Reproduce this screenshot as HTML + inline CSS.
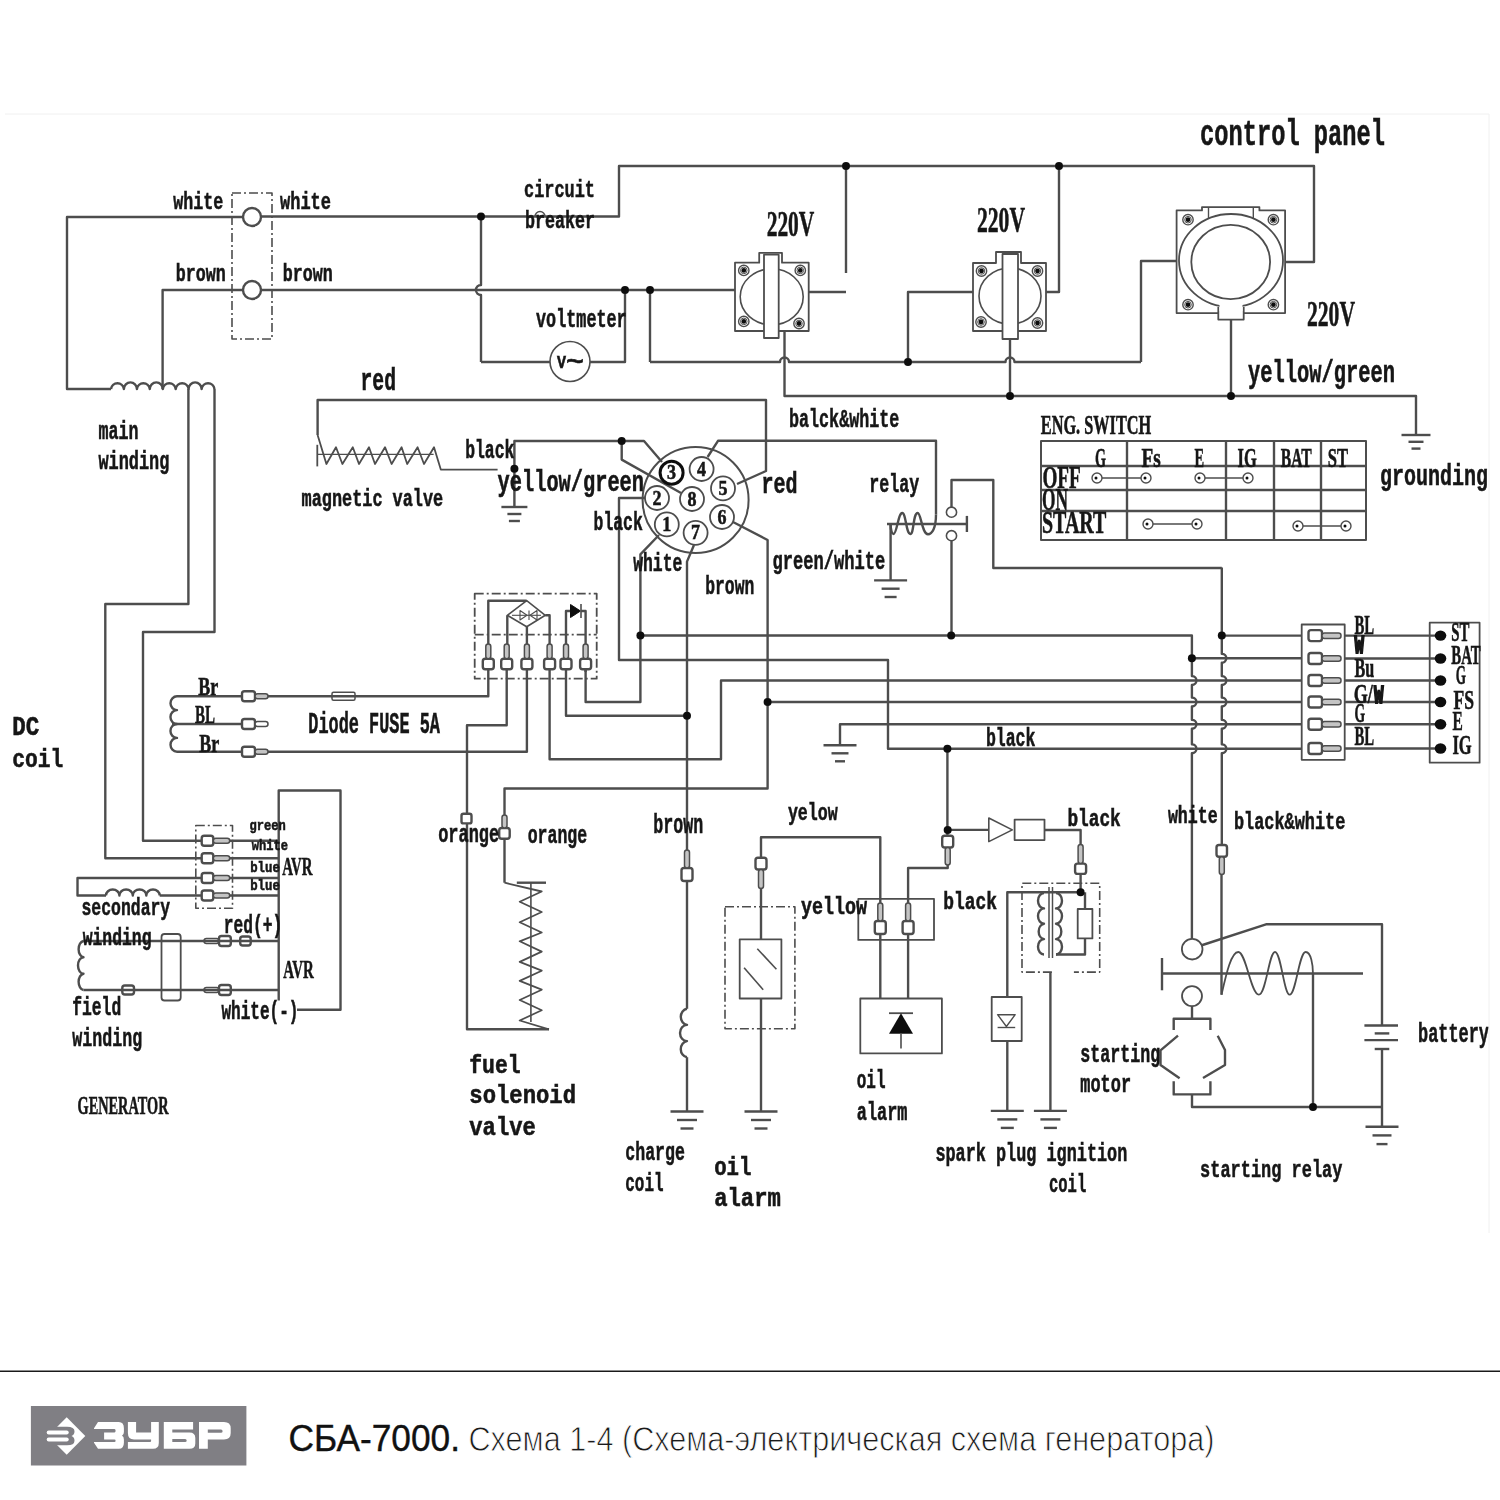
<!DOCTYPE html>
<html><head><meta charset="utf-8"><title>Wiring diagram</title>
<style>
html,body{margin:0;padding:0;background:#fff;}
body{width:1500px;height:1500px;overflow:hidden;position:relative;font-family:"Liberation Sans",sans-serif;}
svg{position:absolute;left:0;top:0;}
</style></head><body>
<svg width="1500" height="1500" viewBox="0 0 1500 1500">
<defs><filter id="bl" x="-1%" y="-1%" width="102%" height="102%"><feGaussianBlur stdDeviation="0.7"/></filter><filter id="bl2" x="-2%" y="-5%" width="104%" height="110%"><feGaussianBlur stdDeviation="0.45"/></filter></defs>
<g filter="url(#bl)">
<g fill="none" stroke="#4e4e4e" stroke-width="2.4" stroke-linejoin="round" stroke-linecap="butt">
<rect x="232" y="193" width="40" height="146" fill="none" stroke-dasharray="9 3 2 3" stroke-width="1.6"/>
<circle cx="252" cy="217" r="9" fill="none"/>
<circle cx="252" cy="290" r="9" fill="none"/>
<polyline points="243,217 67,217 67,389 111,389"/>
<path d="M111,389 A6.5,6.6 0 0 1 123.9,389 A6.5,6.6 0 0 1 136.9,389 A6.5,6.6 0 0 1 149.8,389 A6.5,6.6 0 0 1 162.8,389 A6.5,6.6 0 0 1 175.7,389 A6.5,6.6 0 0 1 188.6,389 A6.5,6.6 0 0 1 201.6,389 A6.5,6.6 0 0 1 214.5,389"/>
<polyline points="214.5,389 214.5,632 143,632 143,840.7 202,840.7"/>
<polyline points="243,290 162.6,290 162.6,389"/>
<polyline points="188.4,389 188.4,604 105.3,604 105.3,858.2 202,858.2"/>
<polyline points="261,216.5 619,216.5 619,166 1314,166 1314,262 1285,262"/>
<path d="M535,216.5 A5,5 0 0 1 545,216.5" stroke-width="1.4"/>
<path d="M481,216.5 L481,285 A5,5 0 0 0 481,295 L481,362"/>
<polyline points="481,362 550,362"/>
<circle cx="570" cy="361.5" r="20" fill="none" stroke-width="1.6"/>
<polyline points="590,362 625,362 625,290"/>
<polyline points="261,290 735,290"/>
<polyline points="650,290 650,362"/>
<path d="M650,362 L780,362 A4.5,4.5 0 0 1 789,362 L1005.5,362 A4.5,4.5 0 0 1 1014.5,362 L1141,362"/>
<polyline points="1141,362 1141,261 1177,261"/>
<polyline points="908,362 908,292 973,292"/>
<polyline points="809,292 846,292"/>
<polyline points="846,166 846,273"/>
<polyline points="1046,292 1059,292 1059,166"/>
<polyline points="784.5,331 784.5,396 1416,396 1416,435"/>
<polyline points="1010,339 1010,396"/>
<polyline points="1231,320 1231,396"/>
<polyline points="1401.5,435 1430.5,435"/>
<polyline points="1408.5,441.8 1423.5,441.8"/>
<polyline points="1411.5,448.6 1420.5,448.6"/>
<path d="M735,262.7 L759.2,262.7 L759.2,252.8 L782,252.8 L782,262.7 L808.7,262.7 L808.7,331 L735,331 Z" stroke-width="1.8"/>
<ellipse cx="771.7" cy="296.8" rx="31.5" ry="28" stroke-width="1.6"/>
<rect x="764" y="254.7" width="14.7" height="83.3" fill="#fff" stroke-width="1.8"/>
<circle cx="743.8" cy="270.4" r="5.2" fill="none" stroke-width="1.4"/>
<circle cx="743.8" cy="270.4" r="3.3" fill="none" stroke-width="1"/>
<circle cx="800.3" cy="270.4" r="5.2" fill="none" stroke-width="1.4"/>
<circle cx="800.3" cy="270.4" r="3.3" fill="none" stroke-width="1"/>
<circle cx="743.8" cy="321.4" r="5.2" fill="none" stroke-width="1.4"/>
<circle cx="743.8" cy="321.4" r="3.3" fill="none" stroke-width="1"/>
<circle cx="799" cy="323.5" r="5.2" fill="none" stroke-width="1.4"/>
<circle cx="799" cy="323.5" r="3.3" fill="none" stroke-width="1"/>
<path d="M973,263 L996,263 L996,252 L1021,252 L1021,263 L1046,263 L1046,331 L973,331 Z" stroke-width="1.8"/>
<ellipse cx="1010" cy="296" rx="31" ry="28" stroke-width="1.6"/>
<rect x="1002.5" y="254" width="15.5" height="85" fill="#fff" stroke-width="1.8"/>
<circle cx="981.5" cy="271" r="5.2" fill="none" stroke-width="1.4"/>
<circle cx="981.5" cy="271" r="3.3" fill="none" stroke-width="1"/>
<circle cx="1037.5" cy="271" r="5.2" fill="none" stroke-width="1.4"/>
<circle cx="1037.5" cy="271" r="3.3" fill="none" stroke-width="1"/>
<circle cx="981" cy="322" r="5.2" fill="none" stroke-width="1.4"/>
<circle cx="981" cy="322" r="3.3" fill="none" stroke-width="1"/>
<circle cx="1037.5" cy="323" r="5.2" fill="none" stroke-width="1.4"/>
<circle cx="1037.5" cy="323" r="3.3" fill="none" stroke-width="1"/>
<path d="M1176.6,210.4 L1202,210.4 L1202,207.1 L1259.4,207.1 L1259.4,210.4 L1285.1,210.4 L1285.1,313.1 L1176.6,313.1 Z" stroke-width="1.8"/>
<path d="M1218.3,307 L1218.3,319.6 L1243.7,319.6 L1243.7,307" fill="#fff" stroke-width="1.8"/>
<ellipse cx="1231" cy="260.5" rx="52" ry="46.5" stroke-width="1.8"/>
<rect x="1219.5" y="303" width="23" height="8" fill="#fff" stroke="none"/>
<ellipse cx="1230.7" cy="262" rx="39.4" ry="37.1" stroke-width="1.8"/>
<polyline points="1208.5,207.5 1208.5,219" stroke-width="1.4"/>
<polyline points="1253.3,207.5 1253.3,219" stroke-width="1.4"/>
<circle cx="1188" cy="219.7" r="5.2" fill="none" stroke-width="1.4"/>
<circle cx="1188" cy="219.7" r="3.3" fill="none" stroke-width="1"/>
<circle cx="1273.4" cy="219.7" r="5.2" fill="none" stroke-width="1.4"/>
<circle cx="1273.4" cy="219.7" r="3.3" fill="none" stroke-width="1"/>
<circle cx="1188" cy="304.7" r="5.2" fill="none" stroke-width="1.4"/>
<circle cx="1188" cy="304.7" r="3.3" fill="none" stroke-width="1"/>
<circle cx="1273.4" cy="304.7" r="5.2" fill="none" stroke-width="1.4"/>
<circle cx="1273.4" cy="304.7" r="3.3" fill="none" stroke-width="1"/>
<polyline points="737,484 766,471 766,400 317.6,400 317.6,435"/>
<polyline points="317.6,435 326.4,464 336,447.2 342.4,464 352.8,447.2 359,464 369,447.2 375,464 385,447.2 391.6,464 401.6,447.2 407.2,464 417.6,447.2 424,464 434,447.2 440.8,469.6 497.6,469.6" stroke-width="1.8"/>
<polyline points="317.3,444.8 317.3,466.4" stroke-width="1.8"/>
<polyline points="318,454.4 433.6,454.4" stroke-width="1.2"/>
<polyline points="514.4,507 514.4,441 644,441 662,462"/>
<polyline points="621.7,441 621.7,459.6 681,493"/>
<polyline points="501.4,507 527.4,507"/>
<polyline points="507.4,514 521.4,514"/>
<polyline points="508.9,521 519.9,521"/>
<circle cx="695.6" cy="500" r="53" fill="none" stroke-width="2"/>
<circle cx="671.6" cy="472.8" r="11.5" fill="#fff" stroke="#111" stroke-width="3"/>
<circle cx="701.6" cy="469" r="12" fill="#fff" stroke-width="1.8"/>
<circle cx="723" cy="488.4" r="12" fill="#fff" stroke-width="1.8"/>
<circle cx="657" cy="498" r="12" fill="#fff" stroke-width="1.8"/>
<circle cx="692" cy="499" r="12" fill="#fff" stroke-width="1.8"/>
<circle cx="666.8" cy="524.4" r="12" fill="#fff" stroke-width="1.8"/>
<circle cx="695.6" cy="532.8" r="12" fill="#fff" stroke-width="1.8"/>
<circle cx="722" cy="517" r="12" fill="#fff" stroke-width="1.8"/>
<polyline points="645,498 619,498 619,660 888,660 888,748.7 1302,748.7"/>
<polyline points="659,535 640.4,554.4 640.4,702 585.6,702 585.6,669"/>
<polyline points="640.4,635.5 1191.9,635.5 1191.9,658.3"/>
<polyline points="694,545 687,561.6 687,850"/>
<polyline points="733,522 767.6,540 767.6,788.5 504.5,788.5 504.5,815"/>
<polyline points="767.6,702 1302,702"/>
<polyline points="707.6,457 718,440.8 936,440.8 936,514.4"/>
<path d="M936,514.4 C936,528 932,534.2 928,534.2 C922,534.2 921,513 917.7,513 C913,513 914,534 910.4,534 C906,534 906,513 902.3,513 C898,513 897,534 893.5,534 C891.5,534 890.6,528 890.6,524"/>
<polyline points="887,524 966.9,524"/>
<polyline points="966.9,515.9 966.9,532"/>
<polyline points="890.6,524 890.6,580.4"/>
<polyline points="874.1,580.4 907.1,580.4"/>
<polyline points="881.6,588.7 899.6,588.7"/>
<polyline points="884.6,597 896.6,597"/>
<circle cx="951.5" cy="512.2" r="5.1" fill="none" stroke-width="1.6"/>
<circle cx="951.5" cy="535.7" r="5.1" fill="none" stroke-width="1.6"/>
<polyline points="951.5,507 951.5,480 993.3,480 993.3,568 1221.8,568"/>
<polyline points="951.5,541 951.5,635.5"/>
<rect x="1041" y="441" width="325" height="99" fill="none" stroke-width="2"/>
<polyline points="1041,466 1366,466"/>
<polyline points="1041,490 1366,490"/>
<polyline points="1041,511 1366,511"/>
<polyline points="1127,441 1127,540"/>
<polyline points="1226,441 1226,540"/>
<polyline points="1274,441 1274,540"/>
<polyline points="1321,441 1321,540"/>
<polyline points="1097,478 1146,478" stroke-width="1.4"/>
<circle cx="1097" cy="478" r="5" fill="#fff" stroke-width="1.4"/>
<circle cx="1146" cy="478" r="5" fill="#fff" stroke-width="1.4"/>
<polyline points="1200,478 1248,478" stroke-width="1.4"/>
<circle cx="1200" cy="478" r="5" fill="#fff" stroke-width="1.4"/>
<circle cx="1248" cy="478" r="5" fill="#fff" stroke-width="1.4"/>
<polyline points="1148,524 1197,524" stroke-width="1.4"/>
<circle cx="1148" cy="524" r="5" fill="#fff" stroke-width="1.4"/>
<circle cx="1197" cy="524" r="5" fill="#fff" stroke-width="1.4"/>
<polyline points="1298,526 1346,526" stroke-width="1.4"/>
<circle cx="1298" cy="526" r="5" fill="#fff" stroke-width="1.4"/>
<circle cx="1346" cy="526" r="5" fill="#fff" stroke-width="1.4"/>
<rect x="474.7" y="593.7" width="122" height="85" fill="none" stroke-dasharray="9 3 2 3" stroke-width="1.8"/>
<line x1="474.7" y1="634.7" x2="596.7" y2="634.7" stroke-dasharray="9 3 2 3" stroke-width="1.8"/>
<polyline points="488.3,658 488.3,600.7 526.7,600.7"/>
<path d="M526.7,600.7 L545.3,615.3 L526.7,626.7 L507.3,615.3 Z" stroke-width="1.6"/>
<polyline points="507.3,615.3 507.3,658"/>
<polyline points="526.9,626.7 526.9,658"/>
<polyline points="545.3,615.3 549.6,615.3 549.6,658"/>
<polyline points="512,615.3 541,615.3" stroke-width="1.1"/>
<path d="M520,610.5 L520,620 L527,615.3 Z M529,610.5 L529,620 M537,610.5 L537,620 L530,615.3 Z" stroke-width="1.1"/>
<polyline points="566,658 566,611 570,611"/>
<path d="M570.5,604.5 L570.5,617.5 L580.5,611 Z" fill="#111" stroke="#111" stroke-width="1"/>
<polyline points="581,604 581,618" stroke-width="1.6"/>
<polyline points="581,611 585.6,611 585.6,658"/>
<rect x="482.8" y="658.7" width="11" height="10.6" fill="#fff" rx="2.5"/>
<rect x="485.8" y="644" width="5" height="14.7" fill="#c4c4c4" stroke-width="1.5" rx="2.5"/>
<rect x="501.2" y="658.7" width="11" height="10.6" fill="#fff" rx="2.5"/>
<rect x="504.2" y="644" width="5" height="14.7" fill="#c4c4c4" stroke-width="1.5" rx="2.5"/>
<rect x="521.4" y="658.7" width="11" height="10.6" fill="#fff" rx="2.5"/>
<rect x="524.4" y="644" width="5" height="14.7" fill="#c4c4c4" stroke-width="1.5" rx="2.5"/>
<rect x="544.1" y="658.7" width="11" height="10.6" fill="#fff" rx="2.5"/>
<rect x="547.1" y="644" width="5" height="14.7" fill="#c4c4c4" stroke-width="1.5" rx="2.5"/>
<rect x="560.5" y="658.7" width="11" height="10.6" fill="#fff" rx="2.5"/>
<rect x="563.5" y="644" width="5" height="14.7" fill="#c4c4c4" stroke-width="1.5" rx="2.5"/>
<rect x="580.1" y="658.7" width="11" height="10.6" fill="#fff" rx="2.5"/>
<rect x="583.1" y="644" width="5" height="14.7" fill="#c4c4c4" stroke-width="1.5" rx="2.5"/>
<polyline points="488.3,669.3 488.3,696.3 268,696.3"/>
<polyline points="506.7,669.3 506.7,725.3 467,725.3 467,813.7"/>
<polyline points="467,823.4 467,1029.3 549,1029.3"/>
<polyline points="526.9,669.3 526.9,751.7 268,751.7"/>
<polyline points="549.6,669.3 549.6,759.3 721,759.3 721,680.5 1302,680.5"/>
<polyline points="566,669.3 566,715.7 687,715.7"/>
<polyline points="585.6,669.3 585.6,672"/>
<rect x="332" y="692.3" width="23" height="8" fill="none" stroke-width="1.5" rx="1.5"/>
<polyline points="336,696.3 351,696.3" stroke-width="1"/>
<path d="M177,696.3 A6.5,6.9 0 0 0 177,710.1 A6.5,6.9 0 0 0 177,724 A6.5,6.9 0 0 0 177,737.9 A6.5,6.9 0 0 0 177,751.7"/>
<polyline points="172,724 242,724"/>
<rect x="242" y="691.3" width="13" height="10" fill="#fff" rx="2.5"/>
<rect x="255" y="693.8" width="13" height="5" fill="#c4c4c4" stroke-width="1.5" rx="2.5"/>
<rect x="242" y="719" width="13" height="10" fill="#fff" rx="2.5"/>
<rect x="255" y="721.5" width="13" height="5" fill="#fff" stroke-width="1.5" rx="2.5"/>
<rect x="242" y="746.7" width="13" height="10" fill="#fff" rx="2.5"/>
<rect x="255" y="749.2" width="13" height="5" fill="#c4c4c4" stroke-width="1.5" rx="2.5"/>
<polyline points="177,696.3 242,696.3"/>
<polyline points="177,751.7 242,751.7"/>
<polyline points="1221.8,635.6 1302,635.6"/>
<polyline points="1191.9,658.3 1302,658.3"/>
<polyline points="840,745.3 840,724.2 1302,724.2"/>
<polyline points="823.5,745.3 856.5,745.3"/>
<polyline points="831.5,753.3 848.5,753.3"/>
<polyline points="835,761.3 845,761.3"/>
<path d="M1191.9,658.3 L1191.9,676 A4.5,4.5 0 0 1 1191.9,685 L1191.9,697.5 A4.5,4.5 0 0 1 1191.9,706.5 L1191.9,719.7 A4.5,4.5 0 0 1 1191.9,728.7 L1191.9,744.2 A4.5,4.5 0 0 1 1191.9,753.2 L1191.9,938.9"/>
<path d="M1221.8,567.6 L1221.8,653.8 A4.5,4.5 0 0 1 1221.8,662.8 L1221.8,676 A4.5,4.5 0 0 1 1221.8,685 L1221.8,697.5 A4.5,4.5 0 0 1 1221.8,706.5 L1221.8,719.7 A4.5,4.5 0 0 1 1221.8,728.7 L1221.8,744.2 A4.5,4.5 0 0 1 1221.8,753.2 L1221.8,845"/>
<rect x="1301.7" y="624.5" width="43" height="135.3" fill="none" stroke-width="1.8"/>
<rect x="1429.7" y="622.7" width="49.9" height="140" fill="none" stroke-width="1.8"/>
<rect x="1308.5" y="630.1" width="13.5" height="11" fill="#fff" rx="2.5"/>
<rect x="1322" y="632.9" width="19" height="5.5" fill="#c4c4c4" stroke-width="1.5" rx="2.5"/>
<polyline points="1344.7,635.6 1436,635.6"/>
<ellipse cx="1440.5" cy="635.6" rx="5.8" ry="5.2" fill="#111" stroke="none"/>
<rect x="1308.5" y="653" width="13.5" height="11" fill="#fff" rx="2.5"/>
<rect x="1322" y="655.8" width="19" height="5.5" fill="#c4c4c4" stroke-width="1.5" rx="2.5"/>
<polyline points="1344.7,658.5 1436,658.5"/>
<ellipse cx="1440.5" cy="658.5" rx="5.8" ry="5.2" fill="#111" stroke="none"/>
<rect x="1308.5" y="675" width="13.5" height="11" fill="#fff" rx="2.5"/>
<rect x="1322" y="677.8" width="19" height="5.5" fill="#c4c4c4" stroke-width="1.5" rx="2.5"/>
<polyline points="1344.7,680.5 1436,680.5"/>
<ellipse cx="1440.5" cy="680.5" rx="5.8" ry="5.2" fill="#111" stroke="none"/>
<rect x="1308.5" y="696.5" width="13.5" height="11" fill="#fff" rx="2.5"/>
<rect x="1322" y="699.2" width="19" height="5.5" fill="#c4c4c4" stroke-width="1.5" rx="2.5"/>
<polyline points="1344.7,702 1436,702"/>
<ellipse cx="1440.5" cy="702" rx="5.8" ry="5.2" fill="#111" stroke="none"/>
<rect x="1308.5" y="718.7" width="13.5" height="11" fill="#fff" rx="2.5"/>
<rect x="1322" y="721.5" width="19" height="5.5" fill="#c4c4c4" stroke-width="1.5" rx="2.5"/>
<polyline points="1344.7,724.2 1436,724.2"/>
<ellipse cx="1440.5" cy="724.2" rx="5.8" ry="5.2" fill="#111" stroke="none"/>
<rect x="1308.5" y="743" width="13.5" height="11" fill="#fff" rx="2.5"/>
<rect x="1322" y="745.8" width="19" height="5.5" fill="#c4c4c4" stroke-width="1.5" rx="2.5"/>
<polyline points="1344.7,748.5 1436,748.5"/>
<ellipse cx="1440.5" cy="748.5" rx="5.8" ry="5.2" fill="#111" stroke="none"/>
<rect x="195.8" y="825.5" width="36.7" height="82.8" fill="none" stroke-dasharray="9 3 2 3" stroke-width="1.6"/>
<polyline points="202,878 77.5,878 77.5,895.5 106,895.5"/>
<path d="M106,895.5 A6.7,6 0 0 1 119.4,895.5 A6.7,6 0 0 1 132.8,895.5 A6.7,6 0 0 1 146.3,895.5 A6.7,6 0 0 1 159.7,895.5"/>
<polyline points="159.7,895.5 202,895.5"/>
<rect x="201.7" y="835.7" width="11.6" height="10" fill="#fff" rx="2.5"/>
<rect x="213.3" y="838.2" width="16.4" height="5" fill="#c4c4c4" stroke-width="1.5" rx="2.5"/>
<polyline points="229.7,840.7 278.7,840.7"/>
<rect x="201.7" y="853.2" width="11.6" height="10" fill="#fff" rx="2.5"/>
<rect x="213.3" y="855.7" width="16.4" height="5" fill="#c4c4c4" stroke-width="1.5" rx="2.5"/>
<polyline points="229.7,858.2 278.7,858.2"/>
<rect x="201.7" y="873" width="11.6" height="10" fill="#fff" rx="2.5"/>
<rect x="213.3" y="875.5" width="16.4" height="5" fill="#c4c4c4" stroke-width="1.5" rx="2.5"/>
<polyline points="229.7,878 278.7,878"/>
<rect x="201.7" y="890.5" width="11.6" height="10" fill="#fff" rx="2.5"/>
<rect x="213.3" y="893" width="16.4" height="5" fill="#c4c4c4" stroke-width="1.5" rx="2.5"/>
<polyline points="229.7,895.5 278.7,895.5"/>
<path d="M297,1009.8 L340.5,1009.8 L340.5,790.5 L278.7,790.5 L278.7,1000.5"/>
<path d="M83.5,941 A5.5,8.2 0 0 0 83.5,957.3 A5.5,8.2 0 0 0 83.5,973.7 A5.5,8.2 0 0 0 83.5,990"/>
<polyline points="83.5,941 278.7,941"/>
<polyline points="83.5,990 278.7,990"/>
<rect x="161.5" y="934" width="19.2" height="66.5" fill="none" stroke-width="1.8" rx="3"/>
<rect x="204" y="938.5" width="15" height="5" fill="none" stroke-width="1.5" rx="2.5"/>
<rect x="219" y="936" width="11.8" height="10" fill="none" rx="2.5"/>
<rect x="240.2" y="936.5" width="10.5" height="9" fill="none" rx="2.5"/>
<rect x="204" y="987.5" width="15" height="5" fill="none" stroke-width="1.5" rx="2.5"/>
<rect x="219" y="985" width="11.8" height="10" fill="none" rx="2.5"/>
<rect x="122.3" y="985.5" width="11.7" height="9" fill="none" rx="2.5"/>
<rect x="461.5" y="813.7" width="10" height="9.7" fill="none" rx="2"/>
<rect x="499.2" y="828" width="10.5" height="10.7" fill="#fff" rx="2.5"/>
<rect x="502" y="815" width="5" height="13" fill="#c4c4c4" stroke-width="1.5" rx="2.5"/>
<polyline points="504.5,838.7 504.5,882.7"/>
<polyline points="516.8,882.7 546,882.7"/>
<polyline points="530.9,882.7 530.9,1022" stroke-width="1.6"/>
<polyline points="504.5,882.7 541.7,891.5 519.7,901.7 541.7,912 519.7,922.3 541.7,932.5 519.7,941.3 541.7,951.6 519.7,961.9 541.7,970.7 519.7,980.9 541.7,989.7 519.7,1000 541.7,1010.3 519.7,1020.5 549,1029.3" stroke-width="1.8"/>
<rect x="681.5" y="868" width="11" height="13" fill="#fff" rx="2.5"/>
<rect x="684.5" y="850" width="5" height="18" fill="#c4c4c4" stroke-width="1.5" rx="2.5"/>
<polyline points="687,881 687,1008.8"/>
<path d="M687,1008.8 A7,8.1 0 0 0 687,1024.9 A7,8.1 0 0 0 687,1041.1 A7,8.1 0 0 0 687,1057.2"/>
<polyline points="687,1057.2 687,1111.5"/>
<polyline points="670.5,1111.5 703.5,1111.5"/>
<polyline points="677,1120 697,1120"/>
<polyline points="680.5,1128.5 693.5,1128.5"/>
<polyline points="880.3,903 880.3,837.2 761,837.2 761,857.7"/>
<rect x="755.5" y="857.7" width="11" height="11.8" fill="#fff" rx="2.5"/>
<rect x="758.5" y="869.5" width="5" height="19" fill="#c4c4c4" stroke-width="1.5" rx="2.5"/>
<polyline points="761,888.5 761,939.3"/>
<rect x="725" y="906.7" width="69.9" height="122.1" fill="none" stroke-dasharray="9 3 2 3" stroke-width="1.6"/>
<rect x="739.7" y="939.3" width="41.7" height="59.2" fill="none" stroke-width="1.8"/>
<polyline points="757.3,948.7 776.4,969.2" stroke-width="1.6"/>
<polyline points="744.1,967.7 763.2,989.7" stroke-width="1.6"/>
<polyline points="761,998.5 761,1111.5"/>
<polyline points="744.5,1111.5 777.5,1111.5"/>
<polyline points="751,1120 771,1120"/>
<polyline points="754.5,1128.5 767.5,1128.5"/>
<polyline points="947.4,748.7 947.4,835.7"/>
<rect x="942.2" y="835.7" width="11" height="11.8" fill="#fff" rx="2.5"/>
<rect x="945.2" y="847.5" width="5" height="17.5" fill="#c4c4c4" stroke-width="1.5" rx="2.5"/>
<polyline points="947.7,865 947.7,868 908.1,868 908.1,903"/>
<rect x="858.3" y="898.8" width="75.7" height="41.1" fill="none" stroke-width="1.8"/>
<rect x="874.8" y="921" width="11" height="13" fill="#fff" rx="2.5"/>
<rect x="877.8" y="903" width="5" height="18" fill="#c4c4c4" stroke-width="1.5" rx="2.5"/>
<rect x="902.6" y="921" width="11" height="13" fill="#fff" rx="2.5"/>
<rect x="905.6" y="903" width="5" height="18" fill="#c4c4c4" stroke-width="1.5" rx="2.5"/>
<polyline points="880.3,934 880.3,998.5"/>
<polyline points="908.1,934 908.1,998.5"/>
<rect x="860.3" y="998.5" width="81.6" height="54.9" fill="none" stroke-width="1.8"/>
<polyline points="889,1013.2 913,1013.2" stroke-width="1.8"/>
<path d="M889,1033.7 L913,1033.7 L901,1013.2 Z" fill="#111" stroke="none"/>
<polyline points="901,1033.7 901,1048.4" stroke-width="1.6"/>
<polyline points="947.7,829.9 988.8,829.9"/>
<path d="M988.8,818 L988.8,841.6 L1012.3,829.9 Z" stroke-width="1.6"/>
<rect x="1014.6" y="819.6" width="29.9" height="20.5" fill="none" stroke-width="1.8"/>
<polyline points="1044.5,830 1080.6,830 1080.6,844.5"/>
<rect x="1075.1" y="863.6" width="11" height="10.3" fill="#fff" rx="2.5"/>
<rect x="1078.1" y="844.6" width="5" height="19" fill="#c4c4c4" stroke-width="1.5" rx="2.5"/>
<polyline points="1080.6,873.9 1080.6,892.3"/>
<polyline points="1080.6,892.3 1007.3,892.3 1007.3,997"/>
<rect x="991.7" y="997" width="30" height="44" fill="none" stroke-width="1.8"/>
<path d="M997.6,1014.7 L1015.2,1014.7 L1006.4,1026.5 Z" stroke-width="1.4"/>
<polyline points="997.6,1027.5 1015.2,1027.5" stroke-width="1.4"/>
<polyline points="1007.3,1041 1007.3,1110.9"/>
<polyline points="990.8,1110.9 1023.8,1110.9"/>
<polyline points="997.3,1119.4 1017.3,1119.4"/>
<polyline points="1000.8,1127.9 1013.8,1127.9"/>
<path d="M1051.9,972.1 L1022,972.1 L1022,883.3 L1099.7,883.3 L1099.7,972.1 L1073.9,972.1" stroke-width="1.6" stroke-dasharray="9 3 2 3"/>
<path d="M1044,893 A6,7.7 0 0 0 1044,908.4 A6,7.7 0 0 0 1044,923.8 A6,7.7 0 0 0 1044,939.1 A6,7.7 0 0 0 1044,954.5"/>
<polyline points="1049,887 1049,958" stroke-width="1.5"/>
<polyline points="1052.5,887 1052.5,958" stroke-width="1.5"/>
<path d="M1056,893 A6,7.7 0 0 1 1056,908.4 A6,7.7 0 0 1 1056,923.8 A6,7.7 0 0 1 1056,939.1 A6,7.7 0 0 1 1056,954.5"/>
<polyline points="1044,893 1044,892.3"/>
<polyline points="1056,893 1056,892.3"/>
<polyline points="1085,892.3 1085,909"/>
<rect x="1077.7" y="909" width="14.7" height="29.4" fill="none" stroke-width="1.8"/>
<polyline points="1085,938.4 1085,954.5 1056,954.5"/>
<polyline points="1050.4,972.1 1050.4,1110.9"/>
<polyline points="1033.9,1110.9 1066.9,1110.9"/>
<polyline points="1040.4,1119.4 1060.4,1119.4"/>
<polyline points="1043.9,1127.9 1056.9,1127.9"/>
<circle cx="1192.2" cy="949.2" r="10.3" fill="none" stroke-width="1.8"/>
<polyline points="1201,945.5 1266,924.3 1382,924.3 1382,1025.5"/>
<rect x="1216.5" y="845" width="10.5" height="11.8" fill="#fff" rx="2.5"/>
<rect x="1219.3" y="856.8" width="5" height="17.6" fill="#c4c4c4" stroke-width="1.5" rx="2.5"/>
<polyline points="1221.5,874.4 1221.5,994.7"/>
<path d="M1221.5,994.7 C1226,975 1231,952 1238.3,952 C1246,952 1251,994.7 1258.8,994.7 C1266,994.7 1269,952 1275,952 C1281,952 1284,994.7 1289.6,994.7 C1296,994.7 1299,952 1305.7,952 C1311,952 1313,965 1313,974" stroke-width="1.8"/>
<polyline points="1313,974 1313,1107"/>
<polyline points="1162,973.5 1363,973.5"/>
<polyline points="1162,958 1162,990.3"/>
<circle cx="1192" cy="996.1" r="10" fill="none" stroke-width="1.8"/>
<polyline points="1192,1006 1192,1018.7"/>
<polyline points="1173.7,1029.9 1173.7,1018.7 1210.4,1018.7 1210.4,1029.9"/>
<polyline points="1178,1035.7 1160.5,1050.4 1160.5,1065 1179.6,1078.3"/>
<polyline points="1217.7,1035.7 1225,1050 1225,1065 1203,1078"/>
<polyline points="1173.7,1081.2 1173.7,1094.4 1210.4,1094.4 1210.4,1081.2"/>
<polyline points="1192,1094.4 1192,1107 1382,1107"/>
<polyline points="1364.4,1025.5 1398,1025.5"/>
<polyline points="1374.7,1033.4 1389.3,1033.4"/>
<polyline points="1364.4,1040.1 1398,1040.1"/>
<polyline points="1374.7,1049 1389.3,1049"/>
<polyline points="1382,1049 1382,1126.7"/>
<polyline points="1365.5,1126.7 1398.5,1126.7"/>
<polyline points="1372.5,1135.4 1391.5,1135.4"/>
<polyline points="1376.5,1144.1 1387.5,1144.1"/>
<circle cx="481" cy="216.5" r="4" fill="#111" stroke="none"/>
<circle cx="846" cy="166" r="4" fill="#111" stroke="none"/>
<circle cx="1059" cy="166" r="4" fill="#111" stroke="none"/>
<circle cx="625" cy="290" r="4" fill="#111" stroke="none"/>
<circle cx="650" cy="290" r="4" fill="#111" stroke="none"/>
<circle cx="908" cy="362" r="4" fill="#111" stroke="none"/>
<circle cx="1010" cy="396" r="4" fill="#111" stroke="none"/>
<circle cx="1231" cy="396" r="4" fill="#111" stroke="none"/>
<circle cx="743.8" cy="270.4" r="2.4" fill="#111" stroke="none"/>
<circle cx="800.3" cy="270.4" r="2.4" fill="#111" stroke="none"/>
<circle cx="743.8" cy="321.4" r="2.4" fill="#111" stroke="none"/>
<circle cx="799" cy="323.5" r="2.4" fill="#111" stroke="none"/>
<circle cx="981.5" cy="271" r="2.4" fill="#111" stroke="none"/>
<circle cx="1037.5" cy="271" r="2.4" fill="#111" stroke="none"/>
<circle cx="981" cy="322" r="2.4" fill="#111" stroke="none"/>
<circle cx="1037.5" cy="323" r="2.4" fill="#111" stroke="none"/>
<circle cx="1188" cy="219.7" r="2.4" fill="#111" stroke="none"/>
<circle cx="1273.4" cy="219.7" r="2.4" fill="#111" stroke="none"/>
<circle cx="1188" cy="304.7" r="2.4" fill="#111" stroke="none"/>
<circle cx="1273.4" cy="304.7" r="2.4" fill="#111" stroke="none"/>
<circle cx="514.4" cy="468.8" r="4" fill="#111" stroke="none"/>
<circle cx="621.7" cy="441" r="4" fill="#111" stroke="none"/>
<circle cx="640.4" cy="635.5" r="4" fill="#111" stroke="none"/>
<circle cx="951.2" cy="635.5" r="4" fill="#111" stroke="none"/>
<circle cx="1191.9" cy="658.3" r="4" fill="#111" stroke="none"/>
<circle cx="767.6" cy="702" r="4" fill="#111" stroke="none"/>
<circle cx="1096" cy="478" r="1.5" fill="#111" stroke="none"/>
<circle cx="1145" cy="478" r="1.5" fill="#111" stroke="none"/>
<circle cx="1199" cy="478" r="1.5" fill="#111" stroke="none"/>
<circle cx="1247" cy="478" r="1.5" fill="#111" stroke="none"/>
<circle cx="1147" cy="524" r="1.5" fill="#111" stroke="none"/>
<circle cx="1196" cy="524" r="1.5" fill="#111" stroke="none"/>
<circle cx="1297" cy="526" r="1.5" fill="#111" stroke="none"/>
<circle cx="1345" cy="526" r="1.5" fill="#111" stroke="none"/>
<circle cx="687" cy="715.7" r="4" fill="#111" stroke="none"/>
<circle cx="1221.8" cy="635.6" r="4" fill="#111" stroke="none"/>
<circle cx="947.4" cy="748.7" r="4" fill="#111" stroke="none"/>
<circle cx="947.7" cy="829.9" r="4" fill="#111" stroke="none"/>
<circle cx="1080.6" cy="892.3" r="4" fill="#111" stroke="none"/>
<circle cx="1313" cy="1107" r="4" fill="#111" stroke="none"/>
</g>
<g fill="#151515" stroke="#151515" stroke-width="0.55" filter="url(#bl2)">
<text x="173.3" y="209.3" font-size="24.2" font-family="Liberation Mono" font-weight="bold" textLength="50" lengthAdjust="spacingAndGlyphs">white</text>
<text x="280" y="209" font-size="24.2" font-family="Liberation Mono" font-weight="bold" textLength="51" lengthAdjust="spacingAndGlyphs">white</text>
<text x="175.7" y="281" font-size="24.2" font-family="Liberation Mono" font-weight="bold" textLength="50" lengthAdjust="spacingAndGlyphs">brown</text>
<text x="282.7" y="281" font-size="24.2" font-family="Liberation Mono" font-weight="bold" textLength="50" lengthAdjust="spacingAndGlyphs">brown</text>
<text x="98.4" y="438.6" font-size="26.0" font-family="Liberation Mono" font-weight="bold" textLength="40" lengthAdjust="spacingAndGlyphs">main</text>
<text x="98.4" y="469.2" font-size="26.0" font-family="Liberation Mono" font-weight="bold" textLength="71" lengthAdjust="spacingAndGlyphs">winding</text>
<text x="524" y="196.7" font-size="24.8" font-family="Liberation Mono" font-weight="bold" textLength="71" lengthAdjust="spacingAndGlyphs">circuit</text>
<text x="525" y="228" font-size="24.8" font-family="Liberation Mono" font-weight="bold" textLength="70" lengthAdjust="spacingAndGlyphs">breaker</text>
<text x="766.7" y="235.8" font-size="35" font-family="Liberation Serif" font-weight="bold" textLength="47.6" lengthAdjust="spacingAndGlyphs">220V</text>
<text x="977" y="231.6" font-size="35" font-family="Liberation Serif" font-weight="bold" textLength="48" lengthAdjust="spacingAndGlyphs">220V</text>
<text x="1307" y="325.6" font-size="35" font-family="Liberation Serif" font-weight="bold" textLength="48" lengthAdjust="spacingAndGlyphs">220V</text>
<text x="536" y="326.7" font-size="26.0" font-family="Liberation Mono" font-weight="bold" textLength="90.7" lengthAdjust="spacingAndGlyphs">voltmeter</text>
<text x="557" y="368" font-size="17.7" font-family="Liberation Mono" font-weight="bold" textLength="9" lengthAdjust="spacingAndGlyphs">V</text>
<text x="566" y="369" font-size="23.6" font-family="Liberation Mono" font-weight="bold" textLength="18" lengthAdjust="spacingAndGlyphs">~</text>
<text x="1200" y="144.8" font-size="36.6" font-family="Liberation Mono" font-weight="bold" textLength="185" lengthAdjust="spacingAndGlyphs">control panel</text>
<text x="1248" y="382" font-size="30.7" font-family="Liberation Mono" font-weight="bold" textLength="147" lengthAdjust="spacingAndGlyphs">yellow/green</text>
<text x="1380" y="484.8" font-size="29.5" font-family="Liberation Mono" font-weight="bold" textLength="108" lengthAdjust="spacingAndGlyphs">grounding</text>
<text x="671.6" y="479.3" font-size="21.2" font-family="Liberation Serif" font-weight="bold" textLength="9" lengthAdjust="spacingAndGlyphs" text-anchor="middle">3</text>
<text x="701.6" y="475.5" font-size="21.2" font-family="Liberation Serif" font-weight="bold" textLength="9" lengthAdjust="spacingAndGlyphs" text-anchor="middle">4</text>
<text x="723" y="494.9" font-size="21.2" font-family="Liberation Serif" font-weight="bold" textLength="9" lengthAdjust="spacingAndGlyphs" text-anchor="middle">5</text>
<text x="657" y="504.5" font-size="21.2" font-family="Liberation Serif" font-weight="bold" textLength="9" lengthAdjust="spacingAndGlyphs" text-anchor="middle">2</text>
<text x="692" y="505.5" font-size="21.2" font-family="Liberation Serif" font-weight="bold" textLength="9" lengthAdjust="spacingAndGlyphs" text-anchor="middle">8</text>
<text x="666.8" y="530.9" font-size="21.2" font-family="Liberation Serif" font-weight="bold" textLength="9" lengthAdjust="spacingAndGlyphs" text-anchor="middle">1</text>
<text x="695.6" y="539.3" font-size="21.2" font-family="Liberation Serif" font-weight="bold" textLength="9" lengthAdjust="spacingAndGlyphs" text-anchor="middle">7</text>
<text x="722" y="523.5" font-size="21.2" font-family="Liberation Serif" font-weight="bold" textLength="9" lengthAdjust="spacingAndGlyphs" text-anchor="middle">6</text>
<text x="465.2" y="458.4" font-size="26.0" font-family="Liberation Mono" font-weight="bold" textLength="49.2" lengthAdjust="spacingAndGlyphs">black</text>
<text x="497.6" y="490.8" font-size="29.5" font-family="Liberation Mono" font-weight="bold" textLength="146.4" lengthAdjust="spacingAndGlyphs">yellow/green</text>
<text x="761.6" y="493" font-size="29.5" font-family="Liberation Mono" font-weight="bold" textLength="36" lengthAdjust="spacingAndGlyphs">red</text>
<text x="593.6" y="530" font-size="26.0" font-family="Liberation Mono" font-weight="bold" textLength="49.2" lengthAdjust="spacingAndGlyphs">black</text>
<text x="633.2" y="570.7" font-size="26.0" font-family="Liberation Mono" font-weight="bold" textLength="49.2" lengthAdjust="spacingAndGlyphs">white</text>
<text x="705.2" y="594" font-size="26.0" font-family="Liberation Mono" font-weight="bold" textLength="49.2" lengthAdjust="spacingAndGlyphs">brown</text>
<text x="772.5" y="569.3" font-size="26.0" font-family="Liberation Mono" font-weight="bold" textLength="112.8" lengthAdjust="spacingAndGlyphs">green/white</text>
<text x="360.5" y="389.9" font-size="30.5" font-family="Liberation Mono" font-weight="bold" textLength="35.5" lengthAdjust="spacingAndGlyphs">red</text>
<text x="301.6" y="505.6" font-size="24.8" font-family="Liberation Mono" font-weight="bold" textLength="141.6" lengthAdjust="spacingAndGlyphs">magnetic valve</text>
<text x="789" y="426.7" font-size="26.0" font-family="Liberation Mono" font-weight="bold" textLength="110.3" lengthAdjust="spacingAndGlyphs">balck&amp;white</text>
<text x="869.3" y="492.4" font-size="26.0" font-family="Liberation Mono" font-weight="bold" textLength="49.9" lengthAdjust="spacingAndGlyphs">relay</text>
<text x="1040.8" y="433.6" font-size="27" font-family="Liberation Serif" font-weight="bold" textLength="110.4" lengthAdjust="spacingAndGlyphs">ENG. SWITCH</text>
<text x="1095" y="467" font-size="27.1" font-family="Liberation Serif" font-weight="bold" textLength="11" lengthAdjust="spacingAndGlyphs">G</text>
<text x="1141.6" y="467" font-size="27.1" font-family="Liberation Serif" font-weight="bold" textLength="19.2" lengthAdjust="spacingAndGlyphs">Fs</text>
<text x="1194.4" y="467" font-size="27.1" font-family="Liberation Serif" font-weight="bold" textLength="9.6" lengthAdjust="spacingAndGlyphs">E</text>
<text x="1237.6" y="467" font-size="27.1" font-family="Liberation Serif" font-weight="bold" textLength="19.2" lengthAdjust="spacingAndGlyphs">IG</text>
<text x="1280.8" y="467" font-size="27.1" font-family="Liberation Serif" font-weight="bold" textLength="31" lengthAdjust="spacingAndGlyphs">BAT</text>
<text x="1327.8" y="467" font-size="27.1" font-family="Liberation Serif" font-weight="bold" textLength="20.2" lengthAdjust="spacingAndGlyphs">ST</text>
<text x="1042.4" y="488" font-size="30.7" font-family="Liberation Serif" font-weight="bold" textLength="38.4" lengthAdjust="spacingAndGlyphs">OFF</text>
<text x="1042" y="510.4" font-size="30.7" font-family="Liberation Serif" font-weight="bold" textLength="26" lengthAdjust="spacingAndGlyphs">ON</text>
<text x="1042" y="532.8" font-size="30.7" font-family="Liberation Serif" font-weight="bold" textLength="64.4" lengthAdjust="spacingAndGlyphs">START</text>
<text x="198.3" y="695" font-size="26.0" font-family="Liberation Serif" font-weight="bold" textLength="20" lengthAdjust="spacingAndGlyphs">Br</text>
<text x="195" y="722.7" font-size="26.0" font-family="Liberation Serif" font-weight="bold" textLength="20" lengthAdjust="spacingAndGlyphs">BL</text>
<text x="199.3" y="751.7" font-size="26.0" font-family="Liberation Serif" font-weight="bold" textLength="20" lengthAdjust="spacingAndGlyphs">Br</text>
<text x="308.3" y="732.7" font-size="29.5" font-family="Liberation Mono" font-weight="bold" textLength="131.7" lengthAdjust="spacingAndGlyphs">Diode FUSE 5A</text>
<text x="12.3" y="735.2" font-size="28" font-family="Liberation Mono" font-weight="bold" textLength="27" lengthAdjust="spacingAndGlyphs">DC</text>
<text x="12.3" y="766.8" font-size="26.5" font-family="Liberation Mono" font-weight="bold" textLength="51" lengthAdjust="spacingAndGlyphs">coil</text>
<text x="1354.5" y="634" font-size="27.1" font-family="Liberation Serif" font-weight="bold" textLength="19.7" lengthAdjust="spacingAndGlyphs">BL</text>
<text x="1354.5" y="677" font-size="27.1" font-family="Liberation Serif" font-weight="bold" textLength="19.7" lengthAdjust="spacingAndGlyphs">Bu</text>
<text x="1353.8" y="703.1" font-size="27.1" font-family="Liberation Serif" font-weight="bold" textLength="19" lengthAdjust="spacingAndGlyphs">G/</text>
<text x="1354.5" y="722.4" font-size="27.1" font-family="Liberation Serif" font-weight="bold" textLength="10.6" lengthAdjust="spacingAndGlyphs">G</text>
<text x="1354.5" y="745" font-size="27.1" font-family="Liberation Serif" font-weight="bold" textLength="19.7" lengthAdjust="spacingAndGlyphs">BL</text>
<text x="1354.5" y="653.3" font-size="26.0" font-family="Liberation Mono" font-weight="bold" stroke-width="2.2" textLength="9.5" lengthAdjust="spacingAndGlyphs">W</text>
<text x="1374" y="703.1" font-size="26.0" font-family="Liberation Mono" font-weight="bold" stroke-width="2.2" textLength="9.5" lengthAdjust="spacingAndGlyphs">W</text>
<text x="1451.3" y="640.8" font-size="27.1" font-family="Liberation Serif" font-weight="bold" textLength="18.1" lengthAdjust="spacingAndGlyphs">ST</text>
<text x="1451.3" y="663.5" font-size="27.1" font-family="Liberation Serif" font-weight="bold" textLength="29.4" lengthAdjust="spacingAndGlyphs">BAT</text>
<text x="1455.8" y="683.9" font-size="27.1" font-family="Liberation Serif" font-weight="bold" textLength="10.2" lengthAdjust="spacingAndGlyphs">G</text>
<text x="1453.5" y="708.8" font-size="27.1" font-family="Liberation Serif" font-weight="bold" textLength="20.5" lengthAdjust="spacingAndGlyphs">FS</text>
<text x="1452.4" y="730.3" font-size="27.1" font-family="Liberation Serif" font-weight="bold" textLength="10.3" lengthAdjust="spacingAndGlyphs">E</text>
<text x="1452.4" y="754.1" font-size="27.1" font-family="Liberation Serif" font-weight="bold" textLength="19.3" lengthAdjust="spacingAndGlyphs">IG</text>
<text x="985.9" y="746.2" font-size="26.0" font-family="Liberation Mono" font-weight="bold" textLength="49.5" lengthAdjust="spacingAndGlyphs">black</text>
<text x="249.5" y="830.2" font-size="15.3" font-family="Liberation Mono" font-weight="bold" textLength="36.2" lengthAdjust="spacingAndGlyphs">green</text>
<text x="251.8" y="850" font-size="15.3" font-family="Liberation Mono" font-weight="bold" textLength="36.2" lengthAdjust="spacingAndGlyphs">white</text>
<text x="250.2" y="872.2" font-size="15.3" font-family="Liberation Mono" font-weight="bold" textLength="29.6" lengthAdjust="spacingAndGlyphs">blue</text>
<text x="250.2" y="889.7" font-size="15.3" font-family="Liberation Mono" font-weight="bold" textLength="29.6" lengthAdjust="spacingAndGlyphs">blue</text>
<text x="282.2" y="875.2" font-size="26.0" font-family="Liberation Serif" font-weight="bold" textLength="30.3" lengthAdjust="spacingAndGlyphs">AVR</text>
<text x="283.3" y="978.3" font-size="26.0" font-family="Liberation Serif" font-weight="bold" textLength="30.4" lengthAdjust="spacingAndGlyphs">AVR</text>
<text x="81.5" y="915.3" font-size="24.8" font-family="Liberation Mono" font-weight="bold" textLength="88.7" lengthAdjust="spacingAndGlyphs">secondary</text>
<text x="82.7" y="944.5" font-size="24.8" font-family="Liberation Mono" font-weight="bold" textLength="68.8" lengthAdjust="spacingAndGlyphs">winding</text>
<text x="223.8" y="932.8" font-size="26.0" font-family="Liberation Mono" font-weight="bold" textLength="58.4" lengthAdjust="spacingAndGlyphs">red(+)</text>
<text x="221.5" y="1019.2" font-size="26.0" font-family="Liberation Mono" font-weight="bold" textLength="77" lengthAdjust="spacingAndGlyphs">white(-)</text>
<text x="72.2" y="1014.5" font-size="26.0" font-family="Liberation Mono" font-weight="bold" textLength="49" lengthAdjust="spacingAndGlyphs">field</text>
<text x="72.2" y="1046" font-size="26.0" font-family="Liberation Mono" font-weight="bold" textLength="70" lengthAdjust="spacingAndGlyphs">winding</text>
<text x="77.5" y="1113.7" font-size="26.0" font-family="Liberation Serif" font-weight="bold" textLength="91" lengthAdjust="spacingAndGlyphs">GENERATOR</text>
<text x="438.2" y="841.6" font-size="26.0" font-family="Liberation Mono" font-weight="bold" textLength="61" lengthAdjust="spacingAndGlyphs">orange</text>
<text x="527.7" y="843" font-size="26.0" font-family="Liberation Mono" font-weight="bold" textLength="59.5" lengthAdjust="spacingAndGlyphs">orange</text>
<text x="469.3" y="1073.3" font-size="26" font-family="Liberation Mono" font-weight="bold" textLength="51.3" lengthAdjust="spacingAndGlyphs">fuel</text>
<text x="469.3" y="1103.4" font-size="26" font-family="Liberation Mono" font-weight="bold" textLength="106.7" lengthAdjust="spacingAndGlyphs">solenoid</text>
<text x="469.3" y="1134.5" font-size="26" font-family="Liberation Mono" font-weight="bold" textLength="66.6" lengthAdjust="spacingAndGlyphs">valve</text>
<text x="653.2" y="833.4" font-size="27.1" font-family="Liberation Mono" font-weight="bold" textLength="50" lengthAdjust="spacingAndGlyphs">brown</text>
<text x="625.3" y="1159.9" font-size="26.0" font-family="Liberation Mono" font-weight="bold" textLength="59.6" lengthAdjust="spacingAndGlyphs">charge</text>
<text x="625.3" y="1190.7" font-size="26.0" font-family="Liberation Mono" font-weight="bold" textLength="38.2" lengthAdjust="spacingAndGlyphs">coil</text>
<text x="714.2" y="1174.6" font-size="26.5" font-family="Liberation Mono" font-weight="bold" textLength="37.3" lengthAdjust="spacingAndGlyphs">oil</text>
<text x="714.2" y="1205.8" font-size="26.5" font-family="Liberation Mono" font-weight="bold" textLength="66.6" lengthAdjust="spacingAndGlyphs">alarm</text>
<text x="787.9" y="819.6" font-size="24.8" font-family="Liberation Mono" font-weight="bold" textLength="49.8" lengthAdjust="spacingAndGlyphs">yelow</text>
<text x="801" y="913.5" font-size="23.6" font-family="Liberation Mono" font-weight="bold" textLength="66" lengthAdjust="spacingAndGlyphs">yellow</text>
<text x="943.3" y="909" font-size="24.8" font-family="Liberation Mono" font-weight="bold" textLength="53.7" lengthAdjust="spacingAndGlyphs">black</text>
<text x="856.8" y="1088" font-size="26.0" font-family="Liberation Mono" font-weight="bold" textLength="28.7" lengthAdjust="spacingAndGlyphs">oil</text>
<text x="856.8" y="1119.7" font-size="26.0" font-family="Liberation Mono" font-weight="bold" textLength="50.7" lengthAdjust="spacingAndGlyphs">alarm</text>
<text x="1067.4" y="826.3" font-size="24.8" font-family="Liberation Mono" font-weight="bold" textLength="53.4" lengthAdjust="spacingAndGlyphs">black</text>
<text x="935.4" y="1161.3" font-size="26.0" font-family="Liberation Mono" font-weight="bold" textLength="191.9" lengthAdjust="spacingAndGlyphs">spark plug ignition</text>
<text x="1049" y="1192" font-size="26.0" font-family="Liberation Mono" font-weight="bold" textLength="37.2" lengthAdjust="spacingAndGlyphs">coil</text>
<text x="1080.3" y="1061.6" font-size="26.0" font-family="Liberation Mono" font-weight="bold" textLength="80" lengthAdjust="spacingAndGlyphs">starting</text>
<text x="1080.3" y="1091.5" font-size="26.0" font-family="Liberation Mono" font-weight="bold" textLength="50.8" lengthAdjust="spacingAndGlyphs">motor</text>
<text x="1167.9" y="823.1" font-size="24.8" font-family="Liberation Mono" font-weight="bold" textLength="49.8" lengthAdjust="spacingAndGlyphs">white</text>
<text x="1233.9" y="829" font-size="24.8" font-family="Liberation Mono" font-weight="bold" textLength="111.4" lengthAdjust="spacingAndGlyphs">black&amp;white</text>
<text x="1418" y="1041.6" font-size="27.1" font-family="Liberation Mono" font-weight="bold" textLength="71" lengthAdjust="spacingAndGlyphs">battery</text>
<text x="1200.1" y="1176.5" font-size="24.8" font-family="Liberation Mono" font-weight="bold" textLength="142.3" lengthAdjust="spacingAndGlyphs">starting relay</text>
</g>
</g>
<line x1="0" y1="1371.3" x2="1500" y2="1371.3" stroke="#1a1a1a" stroke-width="1.6"/>
<rect x="30.9" y="1406" width="215.5" height="59.5" fill="#807f84"/>
<g fill="#fff" stroke="none"><path d="M66.7,1417.3 L85.3,1436 L66.7,1454.7 L48,1436 Z"/><path d="M44,1426.7 L67,1426.7 Q74.5,1426.7 74.5,1431.3 Q74.5,1435 71.5,1436 Q74.5,1437 74.5,1440.7 Q74.5,1445.3 67,1445.3 L44,1445.3 Z" fill="#807f84"/><rect x="46.7" y="1430.4" width="22" height="4.2" rx="2"/><rect x="46.7" y="1437.4" width="22" height="4.2" rx="2"/><path d="M98,1422.1 L118.8,1422.1 Q123.9,1422.1 123.9,1428.3 L123.9,1432 Q123.9,1435 122,1435.7 Q123.9,1436.5 123.9,1439.5 L123.9,1442.7 Q123.9,1448.8 118.8,1448.8 L98,1448.8 L94,1442.7 L94,1442.1 L114.5,1442.1 Q115.6,1442.1 115.6,1440.8 Q115.6,1439.5 114.5,1439.5 L104.1,1439.5 L104.1,1432.5 L114.5,1432.5 Q115.6,1432.5 115.6,1430.8 Q115.6,1429.1 114.5,1429.1 L94,1429.1 L94,1428.3 Z"/><path d="M127.9,1422.1 L136.1,1422.1 L136.1,1432.5 L151.1,1432.5 L151.1,1422.1 L158.8,1422.1 L158.8,1443 Q158.8,1448.8 153,1448.8 L127.9,1448.8 L127.9,1442.1 L150,1442.1 Q151.1,1442.1 151.1,1441 L151.1,1439.5 L134,1439.5 Q127.9,1439.5 127.9,1433 Z"/><path fill-rule="evenodd" d="M163.8,1422.1 L193.1,1422.1 L193.1,1429.6 L172.3,1429.6 L172.3,1432.5 L189.5,1432.5 Q195.3,1432.5 195.3,1438 L195.3,1443.5 Q195.3,1448.8 189.5,1448.8 L163.8,1448.8 Z M172.3,1438.9 L185.1,1438.9 Q186.7,1438.9 186.7,1440.5 Q186.7,1442.1 185.1,1442.1 L172.3,1442.1 Z"/><path fill-rule="evenodd" d="M199,1422.1 L224,1422.1 Q230.7,1422.1 230.7,1428.5 L230.7,1433 Q230.7,1439.5 224,1439.5 L207.8,1439.5 L207.8,1448.8 L199,1448.8 Z M207.8,1429.6 L221,1429.6 Q222.6,1429.6 222.6,1431.2 Q222.6,1432.8 221,1432.8 L207.8,1432.8 Z"/></g>
<text x="288.5" y="1450.7" font-family="Liberation Sans" font-size="37" fill="#111" stroke="#111" stroke-width="0.4" textLength="171.5" lengthAdjust="spacingAndGlyphs">СБА-7000.</text>
<text x="468.5" y="1450.7" font-family="Liberation Sans" font-size="35" fill="#1a1a1a" stroke="#fff" stroke-width="0.9" textLength="746" lengthAdjust="spacingAndGlyphs">Схема 1-4 (Схема-электрическая схема генератора)</text>
<path d="M5,114 H1489 V1233" fill="none" stroke="#f0f0f0" stroke-width="1"/>
</svg>
</body></html>
